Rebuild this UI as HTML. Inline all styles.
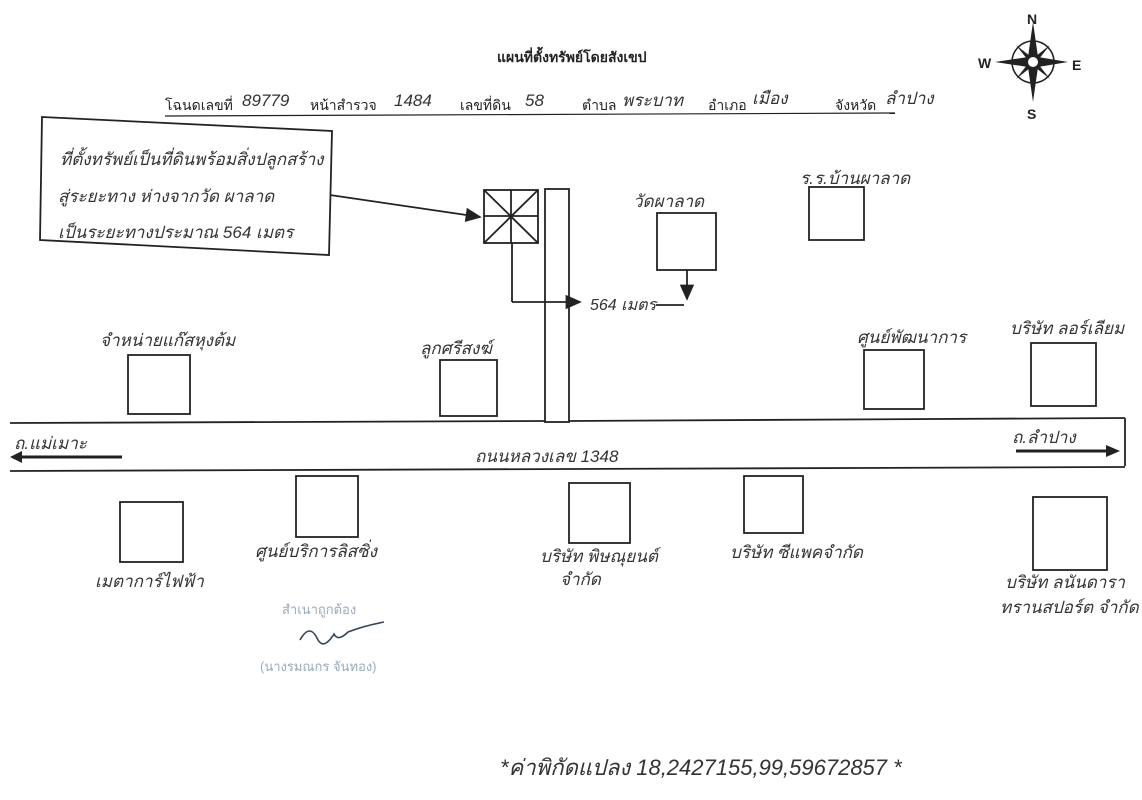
<!DOCTYPE html>
<html><head><meta charset="utf-8"><style>
html,body{margin:0;padding:0;background:#fff;}
svg{display:block;}
text{font-family:"Liberation Sans","Noto Sans CJK SC",sans-serif;fill:#222;}
.h{font-family:"Liberation Sans","Noto Sans CJK SC",sans-serif;font-size:17px;fill:#333;font-style:italic;}
</style></head><body>
<svg width="1142" height="800" viewBox="0 0 1142 800" xmlns="http://www.w3.org/2000/svg">
<defs><marker id="a" markerWidth="10" markerHeight="10" refX="8" refY="4" orient="auto"><path d="M0,0 L9,4 L0,8 z" fill="#222"/></marker></defs>
<rect width="1142" height="800" fill="#fff"/>
<g stroke="#222" stroke-width="1.6" fill="none">
<circle cx="1033" cy="62" r="21"/>
</g>
<g fill="#222">
<polygon points="1033,22 1038,57 1033,62 1028,57"/>
<polygon points="1033,102 1038,67 1033,62 1028,67"/>
<polygon points="995,62 1028,57 1033,62 1028,67"/>
<polygon points="1068,62 1038,57 1033,62 1038,67"/>
<polygon points="1016,45 1035,60 1031,64"/>
<polygon points="1050,45 1031,60 1035,64"/>
<polygon points="1016,79 1035,64 1031,60"/>
<polygon points="1050,79 1031,64 1035,60"/>
<circle cx="1033" cy="62" r="5" fill="#fff"/>
</g>
<text x="1027" y="24" font-size="14" font-weight="bold">N</text>
<text x="978" y="68" font-size="14" font-weight="bold">W</text>
<text x="1072" y="70" font-size="14" font-weight="bold">E</text>
<text x="1027" y="119" font-size="14" font-weight="bold">S</text>

<text x="497" y="62" font-size="14" font-weight="bold">แผนที่ตั้งทรัพย์โดยสังเขป</text>
<g font-size="14">
<text x="165" y="110">โฉนดเลขที่</text>
<text x="242" y="106" class="h">89779</text>
<text x="310" y="110">หน้าสำรวจ</text>
<text x="394" y="106" class="h">1484</text>
<text x="460" y="110">เลขที่ดิน</text>
<text x="525" y="106" class="h">58</text>
<text x="582" y="110">ตำบล</text>
<text x="622" y="106" class="h">พระบาท</text>
<text x="708" y="110">อำเภอ</text>
<text x="752" y="104" class="h">เมือง</text>
<text x="835" y="110">จังหวัด</text>
<text x="885" y="104" class="h">ลำปาง</text>
</g>
<line x1="165" y1="116" x2="895" y2="113" stroke="#222" stroke-width="1.2"/>

<g stroke="#222" stroke-width="1.8" fill="none">
<polygon points="42,117 332,131 329,255 40,240"/>
<line x1="330" y1="195" x2="480" y2="217" marker-end="url(#a)"/>
<rect x="484" y="190" width="54" height="53"/>
<line x1="484" y1="190" x2="538" y2="243"/><line x1="538" y1="190" x2="484" y2="243"/>
<line x1="511" y1="190" x2="511" y2="243"/><line x1="484" y1="216" x2="538" y2="216"/>
<rect x="545" y="189" width="24" height="233"/>
<line x1="512" y1="243" x2="512" y2="302"/>
<line x1="512" y1="302" x2="580" y2="302" marker-end="url(#a)"/>
<line x1="687" y1="270" x2="687" y2="299" marker-end="url(#a)"/>
<line x1="656" y1="305" x2="684" y2="305"/>
<rect x="657" y="213" width="59" height="57"/>
<rect x="809" y="187" width="55" height="53"/>
<rect x="128" y="355" width="62" height="59"/>
<rect x="440" y="360" width="57" height="56"/>
<rect x="864" y="350" width="60" height="59"/>
<rect x="1031" y="343" width="65" height="63"/>
<line x1="10" y1="423" x2="545" y2="421"/>
<line x1="569" y1="421" x2="1125" y2="418"/>
<line x1="1125" y1="418" x2="1125" y2="466"/>
<line x1="10" y1="471" x2="1125" y2="467"/>
<rect x="120" y="502" width="63" height="60"/>
<rect x="296" y="476" width="62" height="61"/>
<rect x="569" y="483" width="61" height="60"/>
<rect x="744" y="476" width="59" height="57"/>
<rect x="1033" y="497" width="74" height="73"/>
</g>
<g stroke="#222" stroke-width="3">
<line x1="122" y1="457" x2="20" y2="457"/>
<line x1="1016" y1="451" x2="1108" y2="451"/>
</g>
<polygon points="10,457 22,451 22,463" fill="#222"/>
<polygon points="1120,451 1106,445 1106,457" fill="#222"/>

<g class="h">
<text x="60" y="165" class="h">ที่ตั้งทรัพย์เป็นที่ดินพร้อมสิ่งปลูกสร้าง</text>
<text x="58" y="202" class="h">สู่ระยะทาง ห่างจากวัด ผาลาด</text>
<text x="58" y="238" class="h">เป็นระยะทางประมาณ 564 เมตร</text>
<text x="633" y="207" class="h">วัดผาลาด</text>
<text x="800" y="184" class="h">ร.ร.บ้านผาลาด</text>
<text x="590" y="310" class="h" style="font-size:16px">564 เมตร</text>
<text x="100" y="346" class="h">จำหน่ายแก๊สหุงต้ม</text>
<text x="420" y="354" class="h">ลูกศรีสงฆ์</text>
<text x="857" y="343" class="h">ศูนย์พัฒนาการ</text>
<text x="1010" y="334" class="h">บริษัท ลอร์เลียม</text>
<text x="14" y="449" class="h">ถ.แม่เมาะ</text>
<text x="1012" y="443" class="h">ถ.ลำปาง</text>
<text x="475" y="462" class="h">ถนนหลวงเลข 1348</text>
<text x="95" y="587" class="h">เมตาการ์ไฟฟ้า</text>
<text x="255" y="557" class="h">ศูนย์บริการลิสซิ่ง</text>
<text x="540" y="562" class="h">บริษัท พิษณุยนต์</text>
<text x="560" y="585" class="h">จำกัด</text>
<text x="730" y="558" class="h">บริษัท ซีแพคจำกัด</text>
<text x="1005" y="588" class="h">บริษัท ลนันดารา</text>
<text x="1000" y="613" class="h">ทรานสปอร์ต จำกัด</text>
<text x="500" y="775" class="h" style="font-size:22px">*ค่าพิกัดแปลง  18,2427155,99,59672857 *</text>
</g>
<g font-size="13">
<text x="282" y="614" style="fill:#9ab">สำเนาถูกต้อง</text>
<text x="260" y="671" style="fill:#9ab">(นางรมณกร  จันทอง)</text>
</g>
<path d="M300,640 q10,-18 18,0 q6,10 16,-6 q4,8 14,-2 q15,-6 36,-10" stroke="#345" stroke-width="1.6" fill="none"/>
</svg>
</body></html>
